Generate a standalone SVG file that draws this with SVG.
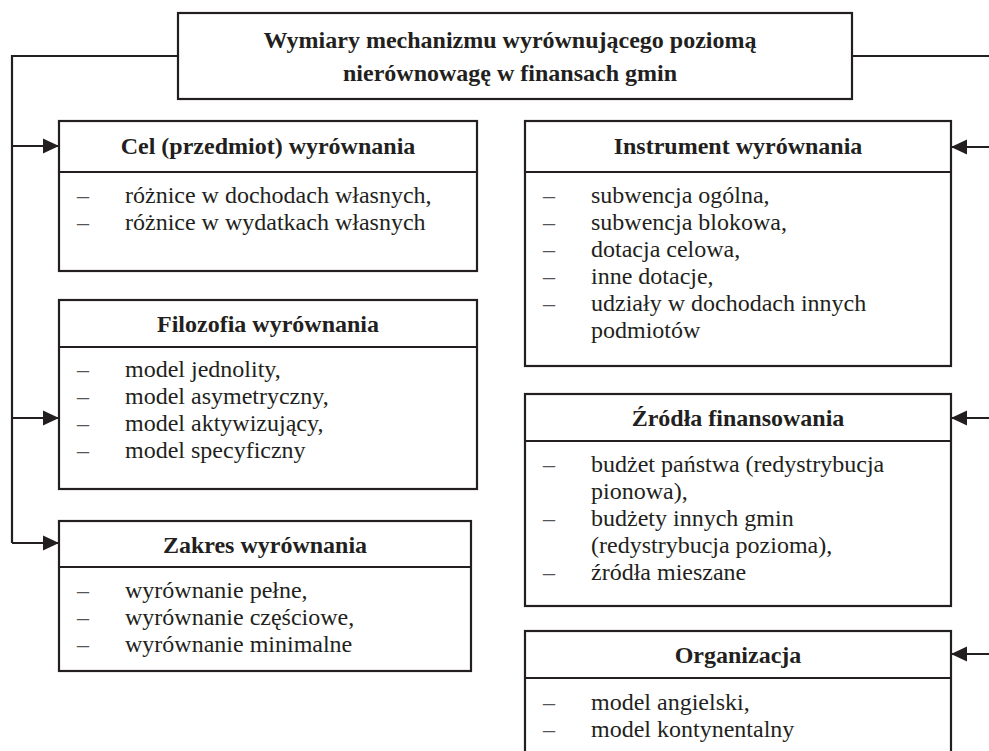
<svg xmlns="http://www.w3.org/2000/svg" width="989" height="751" viewBox="0 0 989 751">
<defs>
<marker id="arr" markerUnits="userSpaceOnUse" markerWidth="16" markerHeight="16" viewBox="0 0 16 16" refX="16" refY="8" orient="auto">
<path d="M0,0.5 L16,8 L0,15.5 Z" fill="#231f20"/>
</marker>
<style>
.box{fill:#fff;stroke:#231f20;stroke-width:2.2}
.div{stroke:#231f20;stroke-width:2}
.con{fill:none;stroke:#231f20;stroke-width:2.2}
text{font-family:"Liberation Serif","Times New Roman",serif;font-size:24px;fill:#231f20}
.h{font-weight:bold;text-anchor:middle}
.d{fill:#555}
</style>
</defs>
<rect width="989" height="751" fill="#fff"/>
<g id="connectors">
<polyline class="con" points="178,56 12,56 12,543"/>
<line class="con" x1="852" y1="56" x2="989" y2="56"/>
<line class="con" x1="12" y1="146" x2="59" y2="146" marker-end="url(#arr)"/>
<line class="con" x1="12" y1="418" x2="59" y2="418" marker-end="url(#arr)"/>
<line class="con" x1="12" y1="543" x2="59" y2="543" marker-end="url(#arr)"/>
<line class="con" x1="989" y1="147" x2="951" y2="147" marker-end="url(#arr)"/>
<line class="con" x1="989" y1="418" x2="951" y2="418" marker-end="url(#arr)"/>
<line class="con" x1="989" y1="654" x2="951" y2="654" marker-end="url(#arr)"/>
</g>
<g id="title">
<rect class="box" x="178" y="13" width="674" height="86"/>
<text class="h" x="510" y="48">Wymiary mechanizmu wyrównującego poziomą</text>
<text class="h" x="510" y="81">nierównowagę w finansach gmin</text>
</g>
<g id="cel">
<rect class="box" x="59" y="121" width="418" height="150"/>
<line class="div" x1="59" y1="172" x2="477" y2="172"/>
<text class="h" x="268" y="154">Cel (przedmiot) wyrównania</text>
<text class="d" x="77" y="203">–</text><text x="125" y="203">różnice w dochodach własnych,</text>
<text class="d" x="77" y="230">–</text><text x="125" y="230">różnice w wydatkach własnych</text>
</g>
<g id="filozofia">
<rect class="box" x="59" y="300" width="418" height="189"/>
<line class="div" x1="59" y1="347" x2="477" y2="347"/>
<text class="h" x="268" y="332">Filozofia wyrównania</text>
<text class="d" x="77" y="377">–</text><text x="125" y="377">model jednolity,</text>
<text class="d" x="77" y="404">–</text><text x="125" y="404">model asymetryczny,</text>
<text class="d" x="77" y="431">–</text><text x="125" y="431">model aktywizujący,</text>
<text class="d" x="77" y="458">–</text><text x="125" y="458">model specyficzny</text>
</g>
<g id="zakres">
<rect class="box" x="59" y="521" width="412" height="150"/>
<line class="div" x1="59" y1="567" x2="471" y2="567"/>
<text class="h" x="265" y="553">Zakres wyrównania</text>
<text class="d" x="77" y="598">–</text><text x="125" y="598">wyrównanie pełne,</text>
<text class="d" x="77" y="625">–</text><text x="125" y="625">wyrównanie częściowe,</text>
<text class="d" x="77" y="652">–</text><text x="125" y="652">wyrównanie minimalne</text>
</g>
<g id="instrument">
<rect class="box" x="525" y="121" width="426" height="245"/>
<line class="div" x1="525" y1="172" x2="951" y2="172"/>
<text class="h" x="738" y="154">Instrument wyrównania</text>
<text class="d" x="543" y="203">–</text><text x="591" y="203">subwencja ogólna,</text>
<text class="d" x="543" y="230">–</text><text x="591" y="230">subwencja blokowa,</text>
<text class="d" x="543" y="257">–</text><text x="591" y="257">dotacja celowa,</text>
<text class="d" x="543" y="284">–</text><text x="591" y="284">inne dotacje,</text>
<text class="d" x="543" y="311">–</text><text x="591" y="311">udziały w dochodach innych</text>
<text x="591" y="338">podmiotów</text>
</g>
<g id="zrodla">
<rect class="box" x="525" y="394" width="426" height="212"/>
<line class="div" x1="525" y1="441" x2="951" y2="441"/>
<text class="h" x="738" y="426">Źródła finansowania</text>
<text class="d" x="543" y="472">–</text><text x="591" y="472">budżet państwa (redystrybucja</text>
<text x="591" y="499">pionowa),</text>
<text class="d" x="543" y="526">–</text><text x="591" y="526">budżety innych gmin</text>
<text x="591" y="553">(redystrybucja pozioma),</text>
<text class="d" x="543" y="580">–</text><text x="591" y="580">źródła mieszane</text>
</g>
<g id="organizacja">
<rect class="box" x="525" y="631" width="426" height="140"/>
<line class="div" x1="525" y1="678" x2="951" y2="678"/>
<text class="h" x="738" y="663">Organizacja</text>
<text class="d" x="543" y="710">–</text><text x="591" y="710">model angielski,</text>
<text class="d" x="543" y="737">–</text><text x="591" y="737">model kontynentalny</text>
</g>
</svg>
